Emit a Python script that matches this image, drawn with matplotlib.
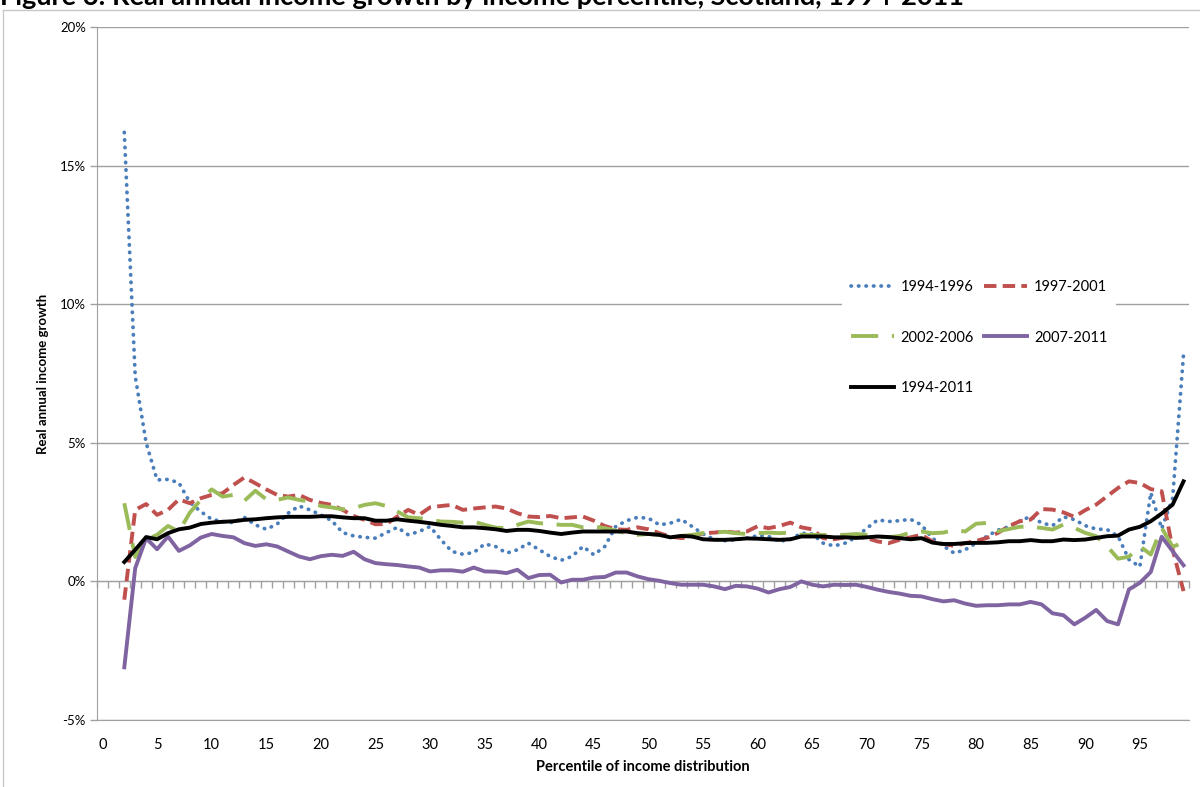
import matplotlib
matplotlib.use('Agg')
import matplotlib.pyplot as plt
from matplotlib.ticker import FixedLocator, FuncFormatter
from matplotlib.lines import Line2D

plt.rcParams['font.family'] = ['Lato', 'DejaVu Sans']
plt.rcParams['axes.unicode_minus'] = False

# percentiles 2..99
percentile = list(range(2, 100))

g_1994_1996 = [16.2, 7.4, 5.0, 3.66, 3.68, 3.56, 2.85, 2.52, 2.24, 2.16, 2.12, 2.31, 2.04, 1.88, 2.07, 2.46, 2.72, 2.58, 2.40,
               2.19, 1.76, 1.64, 1.59, 1.56, 1.76, 1.95, 1.68, 1.80, 1.98, 1.50, 1.08, 0.98, 1.04, 1.35, 1.26, 1.02, 1.14, 1.38, 1.14,
               0.90, 0.76, 0.90, 1.26, 0.96, 1.26, 1.98, 2.19, 2.31, 2.28, 2.04, 2.10, 2.24, 1.98, 1.71, 1.52, 1.47, 1.50, 1.56, 1.65,
               1.62, 1.44, 1.52, 1.74, 1.71, 1.38, 1.28, 1.38, 1.59, 1.92, 2.22, 2.16, 2.19, 2.24, 2.04, 1.56, 1.28, 1.02, 1.14, 1.38,
               1.63, 1.85, 1.97, 2.17, 2.35, 2.11, 2.01, 2.33, 2.23, 2.01, 1.89, 1.87, 1.63, 0.79, 0.53, 3.2, 1.9, 3.0, 8.2]

g_1997_2001 = [-0.66, 2.58, 2.79, 2.40, 2.58, 2.96, 2.82, 3.0, 3.12, 3.18, 3.48, 3.75, 3.54, 3.32, 3.12, 3.06, 3.12, 2.94, 2.83,
               2.76, 2.58, 2.36, 2.22, 2.06, 2.07, 2.34, 2.58, 2.40, 2.67, 2.72, 2.76, 2.58, 2.63, 2.67, 2.70, 2.63, 2.46, 2.34, 2.32,
               2.36, 2.28, 2.31, 2.34, 2.19, 2.0, 1.88, 1.86, 1.95, 1.88, 1.74, 1.62, 1.56, 1.62, 1.74, 1.76, 1.80, 1.76, 1.80, 1.99,
               1.92, 2.0, 2.12, 1.95, 1.88, 1.56, 1.52, 1.59, 1.62, 1.56, 1.44, 1.38, 1.50, 1.59, 1.68, 1.44, 1.35, 1.28, 1.38, 1.46,
               1.57, 1.75, 1.99, 2.17, 2.23, 2.61, 2.59, 2.49, 2.33, 2.57, 2.77, 3.07, 3.37, 3.61, 3.55, 3.33, 3.25, 1.15, -0.35]

g_2002_2006 = [2.82, 0.88, 1.50, 1.68, 2.0, 1.80, 2.48, 2.94, 3.32, 3.06, 3.12, 2.91, 3.27, 2.96, 2.94, 3.03, 2.94, 2.88, 2.72,
               2.67, 2.60, 2.64, 2.76, 2.82, 2.72, 2.52, 2.31, 2.28, 2.22, 2.16, 2.15, 2.12, 2.16, 2.04, 1.94, 1.92, 2.04, 2.16, 2.10,
               2.07, 2.04, 2.04, 1.95, 1.98, 1.92, 1.83, 1.74, 1.68, 1.71, 1.68, 1.59, 1.64, 1.68, 1.74, 1.76, 1.79, 1.74, 1.71, 1.74,
               1.76, 1.74, 1.76, 1.68, 1.68, 1.67, 1.68, 1.68, 1.71, 1.68, 1.62, 1.59, 1.64, 1.76, 1.80, 1.74, 1.76, 1.86, 1.80, 2.08,
               2.11, 1.81, 1.89, 1.97, 1.97, 1.93, 1.87, 2.05, 1.93, 1.75, 1.63, 1.27, 0.82, 0.89, 1.27, 0.97, 1.93, 1.25, 1.40]

g_2007_2011 = [-3.1, 0.48, 1.56, 1.16, 1.62, 1.10, 1.30, 1.58, 1.71, 1.64, 1.59, 1.38, 1.28, 1.34, 1.26, 1.08, 0.90, 0.80, 0.91,
               0.96, 0.92, 1.07, 0.80, 0.66, 0.62, 0.59, 0.54, 0.50, 0.36, 0.40, 0.40, 0.35, 0.50, 0.36, 0.35, 0.30, 0.42, 0.12, 0.23,
               0.24, -0.04, 0.06, 0.06, 0.14, 0.16, 0.32, 0.32, 0.18, 0.08, 0.02, -0.06, -0.12, -0.12, -0.12, -0.18, -0.28, -0.16, -0.18, -0.26,
               -0.40, -0.28, -0.20, 0.0, -0.12, -0.18, -0.12, -0.13, -0.12, -0.20, -0.30, -0.38, -0.44, -0.52, -0.54, -0.64, -0.72, -0.68, -0.80, -0.88,
               -0.86, -0.86, -0.83, -0.83, -0.74, -0.83, -1.15, -1.22, -1.55, -1.31, -1.03, -1.43, -1.55, -0.29, -0.05, 0.34, 1.61, 1.09, 0.58]

g_1994_2011 = [0.70, 1.14, 1.60, 1.52, 1.74, 1.88, 1.94, 2.07, 2.12, 2.15, 2.17, 2.22, 2.24, 2.28, 2.31, 2.33, 2.33, 2.33, 2.35,
               2.35, 2.31, 2.28, 2.28, 2.19, 2.19, 2.24, 2.19, 2.15, 2.10, 2.04, 2.0, 1.95, 1.95, 1.92, 1.88, 1.82, 1.86, 1.86, 1.82,
               1.76, 1.71, 1.76, 1.80, 1.80, 1.80, 1.80, 1.80, 1.74, 1.71, 1.68, 1.59, 1.64, 1.62, 1.52, 1.50, 1.50, 1.52, 1.55, 1.54,
               1.52, 1.50, 1.52, 1.62, 1.62, 1.62, 1.59, 1.59, 1.57, 1.59, 1.62, 1.60, 1.56, 1.52, 1.56, 1.40, 1.35, 1.35, 1.38, 1.39,
               1.39, 1.41, 1.45, 1.45, 1.49, 1.45, 1.45, 1.51, 1.49, 1.51, 1.57, 1.63, 1.65, 1.87, 1.97, 2.17, 2.45, 2.77, 3.61]

x_labels = list(range(0, 100, 5))
y_ticks = [-5, 0, 5, 10, 15, 20]

fig = plt.figure(figsize=(12, 7.87), dpi=100)
ax = fig.add_axes([97 / 1200, 1 - 720 / 787, (1189 - 97) / 1200, (720 - 27) / 787])

grey = '#a0a0a0'

# series, drawn in Excel order (black on top)
l1, = ax.plot(percentile, g_1994_1996, color='#4a7ebb', lw=2.7, linestyle=(0, (0.1, 1.9)),
              dash_capstyle='round', label='1994-1996')
l2, = ax.plot(percentile, g_1997_2001, color='#c0504d', lw=2.8, linestyle=(0, (3.2, 1.6)),
              dash_capstyle='butt', label='1997-2001')
l3, = ax.plot(percentile, g_2002_2006, color='#9bbb59', lw=2.8, linestyle=(0, (7, 3.5)),
              dash_capstyle='butt', label='2002-2006')
l4, = ax.plot(percentile, g_2007_2011, color='#8064a2', lw=2.8, label='2007-2011')
l5, = ax.plot(percentile, g_1994_2011, color='black', lw=2.8, label='1994-2011')

ax.set_xlim(-0.5, 99.5)
ax.set_ylim(-5, 20)

# y axis
ax.yaxis.set_major_locator(FixedLocator(y_ticks))
ax.yaxis.set_major_formatter(FuncFormatter(lambda v, p: '{:d}%'.format(int(round(v)))))
ax.grid(axis='y', color=grey, lw=1)
ax.set_axisbelow(True)
ax.tick_params(axis='y', length=5, width=1, color=grey, pad=3, labelsize=9.5)

# x axis labels at bottom, no marks
ax.set_xticks(x_labels)
ax.set_xticklabels([str(v) for v in x_labels])
ax.tick_params(axis='x', length=0, pad=13, labelsize=10.5)

for s in ['top', 'right']:
    ax.spines[s].set_visible(False)
ax.spines['left'].set_color(grey)
ax.spines['bottom'].set_color(grey)

# category axis line crossing at 0% with tick marks between categories
sec = ax.secondary_xaxis(0.2)
sec.spines['bottom'].set_color(grey)
sec.set_xticks([k - 0.5 for k in range(0, 101)])
sec.tick_params(axis='x', length=5, width=1, color=grey, labelbottom=False, direction='out')

ax.set_ylabel('Real annual income growth', fontweight='bold', fontsize=9.5, labelpad=8)
ax.set_xlabel('Percentile of income distribution', fontweight='bold', fontsize=10.5, labelpad=6)

leg = ax.legend(handles=[l1, l3, l5, l2, l4], ncol=2, loc='upper left',
                bbox_to_anchor=(0.676, 0.658), frameon=True, fontsize=10.5,
                handlelength=2.9, labelspacing=2.5, columnspacing=0.7, handletextpad=0.5,
                borderpad=0.6)
leg.get_frame().set_facecolor('white')
leg.get_frame().set_edgecolor('none')
leg.get_frame().set_alpha(1)

# chart area border (left and top)
fig.add_artist(Line2D([3 / 1200, 3 / 1200], [0, 1 - 10 / 787], color='#c8c8c8', lw=1))
fig.add_artist(Line2D([3 / 1200, 1], [1 - 10 / 787, 1 - 10 / 787], color='#c8c8c8', lw=1))

# title, cut off at the top of the image as in the source
fig.text(0.0, 1 - 5 / 787, 'Figure 6: Real annual income growth by income percentile, Scotland, 1994-2011',
         fontsize=19.5, fontweight='bold', va='baseline', ha='left')

fig.savefig('out.png', dpi=100)
